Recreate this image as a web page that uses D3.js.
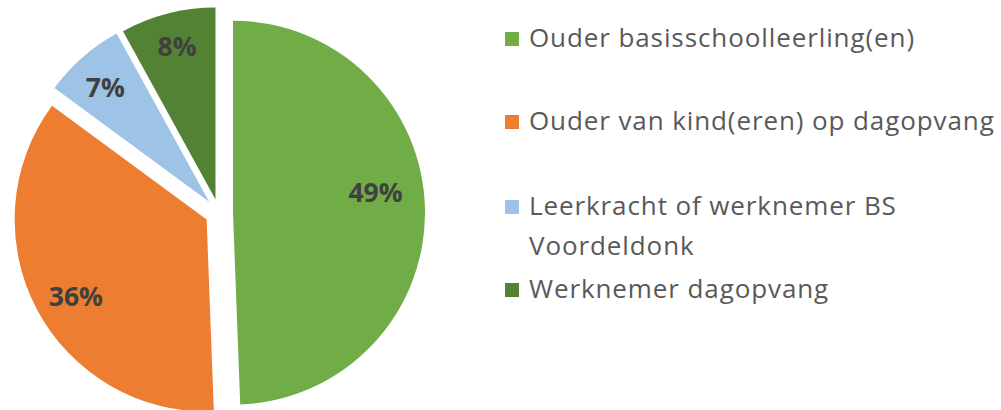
<!DOCTYPE html>
<meta charset="utf-8">
<script src="https://d3js.org/d3.v7.min.js"></script>
<style>
  body { margin: 0; background: #fff; }
  text { font-family: "Open Sans", sans-serif; }
</style>
<body>
<svg id="chart" width="1001" height="410"></svg>
<script>
// data
const categories = ["Ouder basisschoolleerling(en)", "Ouder van kind(eren) op dagopvang", "Leerkracht of werknemer BS Voordeldonk", "Werknemer dagopvang"];
const values = [49.4, 35.7, 6.9, 8.0];
const labels = ["49%", "36%", "7%", "8%"];
const legendLines = [["Ouder basisschoolleerling(en)"], ["Ouder van kind(eren) op dagopvang"], ["Leerkracht of werknemer BS", "Voordeldonk"], ["Werknemer dagopvang"]];

const colors = ["#70ad47", "#ed7d31", "#9dc3e6", "#548235"];
const explode = [14, 14, 15, 14];
// label placement inside each slice: fraction of the slice's angle, fraction of radius
const labelT = [0.46, 0.48, 0.46, 0.51];
const labelR = [0.75, 0.79, 0.805, 0.82];

const svg = d3.select("#chart");
const cx = 219, cy = 213, r = 192;

const pie = d3.pie().sort(null).value(d => d)(values);
const arc = d3.arc().innerRadius(0).outerRadius(r);

const g = svg.append("g").attr("transform", `translate(${cx},${cy})`);

const slices = g.selectAll("g.slice")
  .data(pie)
  .join("g")
    .attr("class", "slice")
    .attr("transform", (d, i) => {
      const a = (d.startAngle + d.endAngle) / 2;
      return `translate(${explode[i] * Math.sin(a)},${-explode[i] * Math.cos(a)})`;
    });

slices.append("path")
  .attr("d", arc)
  .attr("fill", (d, i) => colors[i]);

// percent labels
slices.append("text")
  .attr("transform", (d, i) => {
    const a = d.startAngle + (d.endAngle - d.startAngle) * labelT[i];
    const rr = r * labelR[i];
    return `translate(${rr * Math.sin(a)},${-rr * Math.cos(a)})`;
  })
  .attr("text-anchor", "middle")
  .attr("dy", "0.36em")
  .attr("font-size", 26.5)
  .attr("font-weight", "bold")
  .attr("fill", "#404040")
  .text((d, i) => labels[i]);

// legend
const rowY = [47, 130, 215, 298];
const legend = svg.append("g").attr("transform", "translate(505,0)");
const item = legend.selectAll("g")
  .data(legendLines)
  .join("g")
    .attr("transform", (d, i) => `translate(0,${rowY[i]})`);

item.append("rect")
  .attr("x", 0).attr("y", -15)
  .attr("width", 14).attr("height", 14)
  .attr("fill", (d, i) => colors[i]);

item.append("text")
  .attr("x", 24)
  .attr("font-size", 26)
  .attr("letter-spacing", 0.9)
  .attr("fill", "#595959")
  .selectAll("tspan")
  .data(d => d)
  .join("tspan")
    .attr("x", 24)
    .attr("dy", (d, j) => j === 0 ? 0 : 40)
    .text(d => d);
</script>
</body>
